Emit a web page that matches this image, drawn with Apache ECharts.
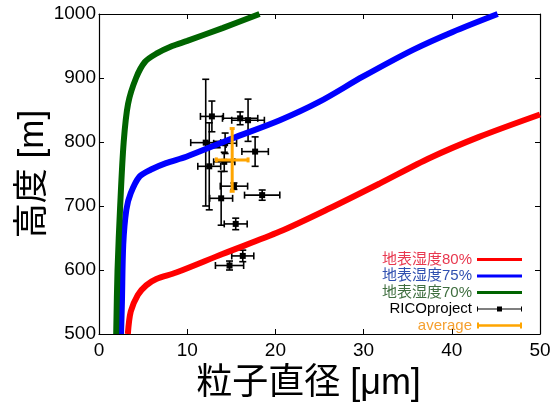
<!DOCTYPE html>
<html>
<head>
<meta charset="utf-8">
<script src="https://cdn.jsdelivr.net/npm/echarts@6/dist/echarts.min.js"></script>
<style>
  html, body { margin: 0; padding: 0; background: #fff; }
  #chart { width: 555px; height: 407px; }
</style>
</head>
<body>
<div id="chart"></div>
<script>
// 曲線 (地表湿度別)
var redX = [3.27, 3.6, 4.4, 5.35, 6.5, 8.75, 14.0, 20.5, 26.1, 31.8, 37.5, 43.1, 50]
var redY = [500, 535, 561, 576, 586, 596, 625, 660, 696, 735, 775, 808, 843]
var blueX = [2.5, 2.6, 2.75, 3.1, 3.6, 4.6, 5.9, 7.6, 9.9, 15, 20.5, 25, 29.9, 35.6, 40.1, 45.2]
var blueY = [500, 550, 640, 694, 720, 746, 757, 767, 777, 805, 834, 863, 902, 944, 972, 1000]
var greenX = [1.95, 2.1, 2.4, 2.8, 3.3, 4.2, 5.2, 6.5, 8.3, 10, 14, 18.2]
var greenY = [500, 600, 700, 800, 860, 900, 925, 938, 950, 958, 978, 1000]

// RICOproject 観測値
var ricoX = [12.8, 16.0, 16.9, 12.1, 13.4, 14.3, 17.7, 12.5, 14.2, 15.3, 13.85, 18.5, 15.5, 16.3, 14.8]
var ricoY = [840, 837, 834, 799, 796, 798, 785, 762, 769, 731, 712, 717, 672, 622, 607]
var ricoXErr = [1.3, 2.0, 1.85, 1.7, 1.0, 1.3, 1.5, 1.3, 1.2, 1.55, 1.3, 2.0, 1.3, 1.25, 1.6]
var ricoYErr = [24, 10, 33, 99, 5, 16, 23, 68, 15, 5, 42, 8, 9, 9, 7]

// 平均
var avgX = [15.1]
var avgY = [772]
var avgXErr = [1.8]
var avgYErr = [49]

var legendNames = ['地表湿度80%', '地表湿度75%', '地表湿度70%', 'RICOproject', 'average']
var xTicks = [0, 10, 20, 30, 40, 50]
var yTicks = [500, 600, 700, 800, 900, 1000]

var FONT = '"Liberation Sans", Arial, "Noto Sans CJK JP", sans-serif'

function pairs(xs, ys) {
  return xs.map(function(x, i) { return [x, ys[i]] })
}
function errData(xs, ys, exs, eys) {
  return xs.map(function(x, i) { return [x, ys[i], exs[i], eys[i]] })
}

function errRender(color, lw, cap, markSize) {
  return function(params, api) {
    var x = api.value(0)
    var y = api.value(1)
    var ex = api.value(2)
    var ey = api.value(3)
    var c = api.coord([x, y])
    var l = api.coord([x - ex, y])
    var r = api.coord([x + ex, y])
    var t = api.coord([x, y + ey])
    var b = api.coord([x, y - ey])
    var st = { stroke: color, lineWidth: lw, fill: null }
    var kids = [
      { type: 'line', shape: { x1: l[0], y1: c[1], x2: r[0], y2: c[1] }, style: st },
      { type: 'line', shape: { x1: c[0], y1: t[1], x2: c[0], y2: b[1] }, style: st },
      { type: 'line', shape: { x1: l[0], y1: c[1] - cap, x2: l[0], y2: c[1] + cap }, style: st },
      { type: 'line', shape: { x1: r[0], y1: c[1] - cap, x2: r[0], y2: c[1] + cap }, style: st },
      { type: 'line', shape: { x1: c[0] - cap, y1: t[1], x2: c[0] + cap, y2: t[1] }, style: st },
      { type: 'line', shape: { x1: c[0] - cap, y1: b[1], x2: c[0] + cap, y2: b[1] }, style: st }
    ]
    if (markSize) {
      kids.push({
        type: 'rect',
        shape: { x: c[0] - markSize / 2, y: c[1] - markSize / 2, width: markSize, height: markSize },
        style: { fill: color }
      })
    }
    return { type: 'group', children: kids }
  }
}

var barIcon = 'path://M0,0M90,12M0,3H90V9H0Z'
var ricoIcon = 'path://M0,1H2V11H0ZM0,5H90V7H0ZM40,1H50V11H40ZM88,1H90V11H88Z'
var avgIcon = 'path://M0,0H4V12H0ZM0,3.5H90V8.5H0ZM86,0H90V12H86Z'

var chart = echarts.init(document.getElementById('chart'))

var axisCommon = {
  type: 'value',
  axisLine: { show: true, onZero: false, lineStyle: { color: '#000', width: 1.2 } },
  axisTick: { show: true, inside: true, length: 5, lineStyle: { color: '#000', width: 1 } },
  splitLine: { show: false }
}

chart.setOption({
  backgroundColor: '#fff',
  animation: false,
  textStyle: { fontFamily: FONT },
  grid: { left: 99, right: 15, top: 14, bottom: 73, containLabel: false },
  legend: {
    orient: 'vertical',
    right: 28,
    top: 247,
    align: 'right',
    itemWidth: 45,
    itemHeight: 6,
    itemGap: 1.5,
    textStyle: { fontSize: 15, fontFamily: FONT },
    data: [
      { name: legendNames[0], icon: barIcon, textStyle: { color: '#e8384f' } },
      { name: legendNames[1], icon: barIcon, textStyle: { color: '#3050b0' } },
      { name: legendNames[2], icon: barIcon, textStyle: { color: '#3f6e3f' } },
      { name: legendNames[3], icon: ricoIcon, textStyle: { color: '#000' } },
      { name: legendNames[4], icon: avgIcon, textStyle: { color: '#f5a030' } }
    ]
  },
  xAxis: [
    Object.assign({}, axisCommon, {
      min: xTicks[0], max: xTicks[xTicks.length - 1], interval: 10,
      position: 'bottom',
      name: '粒子直径 [μm]',
      nameLocation: 'middle',
      nameGap: 32,
      nameMoveOverlap: false,
      nameTextStyle: { fontSize: 36, color: '#000', fontFamily: FONT, padding: [0, 22, 0, 0] },
      axisLabel: { fontSize: 19, color: '#000', margin: 7, fontFamily: FONT }
    }),
    Object.assign({}, axisCommon, {
      min: xTicks[0], max: xTicks[xTicks.length - 1], interval: 10,
      position: 'top',
      axisLabel: { show: false }
    })
  ],
  yAxis: [
    Object.assign({}, axisCommon, {
      min: yTicks[0], max: yTicks[yTicks.length - 1], interval: 100,
      position: 'left',
      name: '高度 [m]',
      nameLocation: 'middle',
      nameGap: 48,
      nameMoveOverlap: false,
      nameTextStyle: { fontSize: 35, color: '#000', fontFamily: FONT },
      axisLabel: {
        fontSize: 19, color: '#000', margin: 3, fontFamily: FONT,
        formatter: function(v) { return String(v) }
      }
    }),
    Object.assign({}, axisCommon, {
      min: yTicks[0], max: yTicks[yTicks.length - 1], interval: 100,
      position: 'right',
      axisLabel: { show: false }
    })
  ],
  series: [
    {
      name: legendNames[0], type: 'line', smooth: 0.3, showSymbol: false,
      color: '#ff0000', lineStyle: { width: 6, color: '#ff0000' },
      data: pairs(redX, redY)
    },
    {
      name: legendNames[1], type: 'line', smooth: 0.3, showSymbol: false,
      color: '#0000ff', lineStyle: { width: 6, color: '#0000ff' },
      data: pairs(blueX, blueY)
    },
    {
      name: legendNames[2], type: 'line', smooth: 0.3, showSymbol: false,
      color: '#006400', lineStyle: { width: 6, color: '#006400' },
      data: pairs(greenX, greenY)
    },
    {
      name: legendNames[3], type: 'custom',
      itemStyle: { color: '#000' },
      renderItem: errRender('#000', 1.6, 3.5, 6),
      encode: { x: 0, y: 1 },
      data: errData(ricoX, ricoY, ricoXErr, ricoYErr),
      z: 3
    },
    {
      name: legendNames[4], type: 'custom',
      itemStyle: { color: '#ffa500' },
      renderItem: errRender('#ffa500', 3, 2.5, 0),
      encode: { x: 0, y: 1 },
      data: errData(avgX, avgY, avgXErr, avgYErr),
      z: 4
    }
  ]
})
</script>
</body>
</html>
